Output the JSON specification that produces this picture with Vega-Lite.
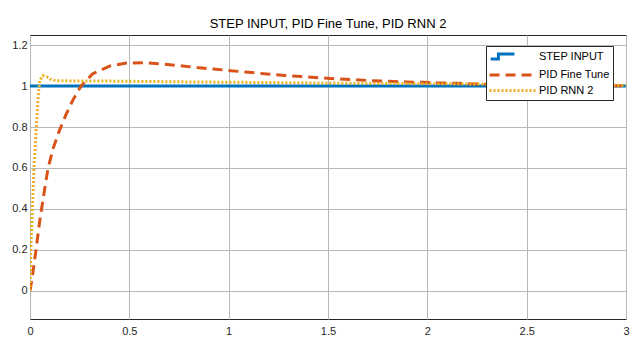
{
  "$schema": "https://vega.github.io/schema/vega-lite/v6.json",
  "width": 596,
  "height": 284,
  "autosize": {"type": "none"},
  "padding": {"left": 30, "top": 35, "right": 5, "bottom": 26},
  "background": "white",
  "title": {
    "text": "STEP INPUT, PID Fine Tune, PID RNN 2",
    "fontSize": 13,
    "fontWeight": "normal",
    "font": "Liberation Sans",
    "color": "#000000",
    "anchor": "middle",
    "offset": 4
  },
  "config": {
    "font": "Liberation Sans",
    "view": {"stroke": "#262626", "strokeWidth": 1},
    "axis": {
      "labelFont": "Liberation Sans",
      "labelFontSize": 11,
      "labelColor": "#262626",
      "gridColor": "#b8b8b8",
      "gridOpacity": 1,
      "gridWidth": 1,
      "domain": false,
      "ticks": false,
      "title": null
    }
  },
  "data": {
    "values": [
      {"series": "STEP INPUT", "t": 0, "y": 1},
      {"series": "STEP INPUT", "t": 3, "y": 1},
      {"series": "PID Fine Tune", "t": 0, "y": 0},
      {"series": "PID Fine Tune", "t": 0.01, "y": 0.06},
      {"series": "PID Fine Tune", "t": 0.029, "y": 0.19},
      {"series": "PID Fine Tune", "t": 0.046, "y": 0.32},
      {"series": "PID Fine Tune", "t": 0.066, "y": 0.45},
      {"series": "PID Fine Tune", "t": 0.091, "y": 0.6},
      {"series": "PID Fine Tune", "t": 0.118, "y": 0.7},
      {"series": "PID Fine Tune", "t": 0.147, "y": 0.78},
      {"series": "PID Fine Tune", "t": 0.181, "y": 0.86},
      {"series": "PID Fine Tune", "t": 0.215, "y": 0.93},
      {"series": "PID Fine Tune", "t": 0.257, "y": 1.0},
      {"series": "PID Fine Tune", "t": 0.316, "y": 1.06},
      {"series": "PID Fine Tune", "t": 0.4, "y": 1.097},
      {"series": "PID Fine Tune", "t": 0.486, "y": 1.112},
      {"series": "PID Fine Tune", "t": 0.58, "y": 1.114},
      {"series": "PID Fine Tune", "t": 0.663, "y": 1.107},
      {"series": "PID Fine Tune", "t": 0.748, "y": 1.1},
      {"series": "PID Fine Tune", "t": 0.84, "y": 1.09},
      {"series": "PID Fine Tune", "t": 0.924, "y": 1.083},
      {"series": "PID Fine Tune", "t": 1.01, "y": 1.075},
      {"series": "PID Fine Tune", "t": 1.1, "y": 1.067},
      {"series": "PID Fine Tune", "t": 1.19, "y": 1.059},
      {"series": "PID Fine Tune", "t": 1.27, "y": 1.052},
      {"series": "PID Fine Tune", "t": 1.365, "y": 1.047},
      {"series": "PID Fine Tune", "t": 1.46, "y": 1.04},
      {"series": "PID Fine Tune", "t": 1.54, "y": 1.035},
      {"series": "PID Fine Tune", "t": 1.63, "y": 1.031},
      {"series": "PID Fine Tune", "t": 1.72, "y": 1.026},
      {"series": "PID Fine Tune", "t": 1.81, "y": 1.023},
      {"series": "PID Fine Tune", "t": 1.89, "y": 1.02},
      {"series": "PID Fine Tune", "t": 1.975, "y": 1.018},
      {"series": "PID Fine Tune", "t": 2.07, "y": 1.015},
      {"series": "PID Fine Tune", "t": 2.16, "y": 1.013},
      {"series": "PID Fine Tune", "t": 2.24, "y": 1.01},
      {"series": "PID Fine Tune", "t": 2.4, "y": 1.007},
      {"series": "PID Fine Tune", "t": 2.6, "y": 1.004},
      {"series": "PID Fine Tune", "t": 2.8, "y": 1.002},
      {"series": "PID Fine Tune", "t": 3.0, "y": 1.001},
      {"series": "PID RNN 2", "t": 0, "y": 0},
      {"series": "PID RNN 2", "t": 0.004, "y": 0.2},
      {"series": "PID RNN 2", "t": 0.012, "y": 0.4},
      {"series": "PID RNN 2", "t": 0.02, "y": 0.6},
      {"series": "PID RNN 2", "t": 0.032, "y": 0.8},
      {"series": "PID RNN 2", "t": 0.041, "y": 0.95},
      {"series": "PID RNN 2", "t": 0.05, "y": 1.03},
      {"series": "PID RNN 2", "t": 0.065, "y": 1.05},
      {"series": "PID RNN 2", "t": 0.085, "y": 1.045},
      {"series": "PID RNN 2", "t": 0.105, "y": 1.032},
      {"series": "PID RNN 2", "t": 0.13, "y": 1.026},
      {"series": "PID RNN 2", "t": 0.2, "y": 1.025},
      {"series": "PID RNN 2", "t": 0.4, "y": 1.024},
      {"series": "PID RNN 2", "t": 0.8, "y": 1.02},
      {"series": "PID RNN 2", "t": 1.2, "y": 1.017},
      {"series": "PID RNN 2", "t": 1.7, "y": 1.013},
      {"series": "PID RNN 2", "t": 2.2, "y": 1.01},
      {"series": "PID RNN 2", "t": 2.6, "y": 1.006},
      {"series": "PID RNN 2", "t": 3.0, "y": 1.004}
    ]
  },
  "mark": {"type": "line", "strokeWidth": 3, "clip": true},
  "encoding": {
    "x": {
      "field": "t",
      "type": "quantitative",
      "scale": {"domain": [0, 3], "nice": false, "zero": false},
      "axis": {"values": [0, 0.5, 1, 1.5, 2, 2.5, 3], "format": ".1~f", "labelPadding": 6, "labelFlush": false}
    },
    "y": {
      "field": "y",
      "type": "quantitative",
      "scale": {"domain": [-0.137, 1.249], "nice": false, "zero": false},
      "axis": {"values": [0, 0.2, 0.4, 0.6, 0.8, 1, 1.2], "format": ".1~f", "labelPadding": 3}
    },
    "color": {
      "field": "series",
      "type": "nominal",
      "scale": {
        "domain": ["STEP INPUT", "PID Fine Tune", "PID RNN 2"],
        "range": ["#0072BD", "#D95319", "#EDB120"]
      },
      "legend": {
        "title": null,
        "orient": "none",
        "legendX": 456,
        "legendY": 11,
        "padding": 3,
        "strokeColor": "#262626",
        "fillColor": "white",
        "symbolType": "M-4,0H4",
        "symbolSize": 132,
        "symbolStrokeWidth": 3,
        "symbolOffset": 16,
        "labelFontSize": 11,
        "labelColor": "#000000",
        "labelOffset": 19,
        "rowPadding": 1.5,
        "encode": {
          "symbols": {
            "update": {
              "shape": {"signal": "datum.value === 'STEP INPUT' ? 'M-3.8,0.45H-2.45V-0.45H0.35' : 'M-4,0H4'"}
            }
          }
        }
      }
    },
    "strokeDash": {
      "field": "series",
      "type": "nominal",
      "scale": {
        "domain": ["STEP INPUT", "PID Fine Tune", "PID RNN 2"],
        "range": [[1, 0], [10, 6], [2, 2]]
      },
      "legend": null
    },
    "order": {"field": "t", "type": "quantitative"}
  }
}
